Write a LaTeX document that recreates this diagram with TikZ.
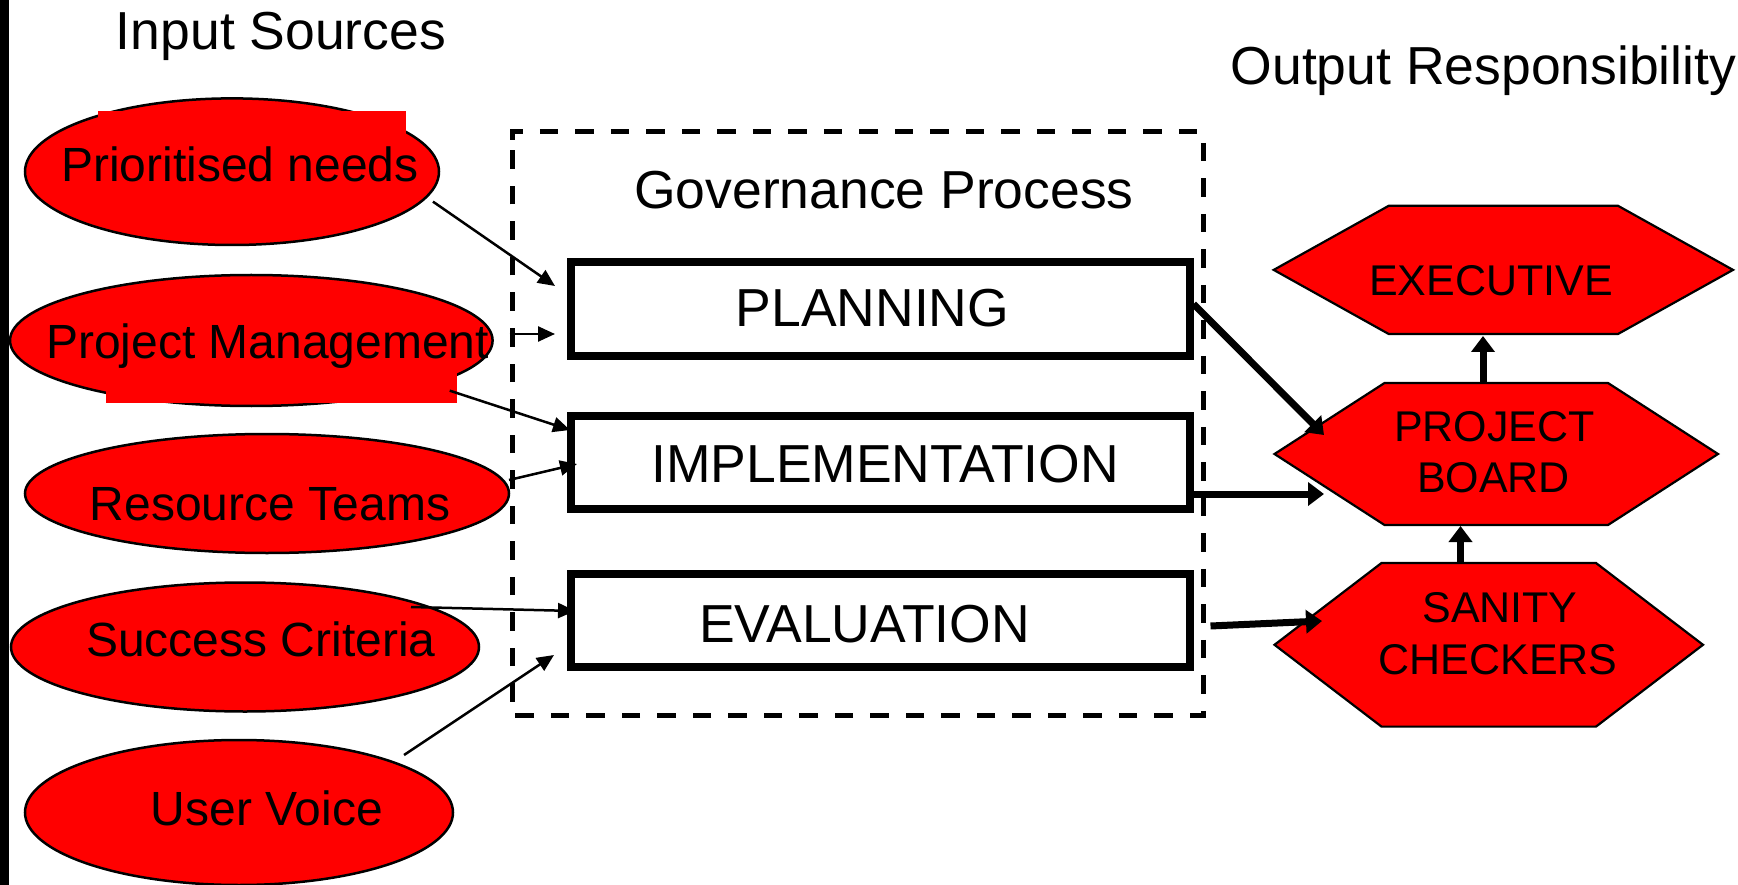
\documentclass[tikz,border=0pt]{standalone}
\usepackage{fontspec}
\setmainfont{Liberation Sans}
\usetikzlibrary{shapes.geometric,arrows.meta,calc}

\tikzset{
  title/.style={anchor=base, inner sep=0, font=\fontsize{53.5}{60}\selectfont},
  source/.style={ellipse, draw, line width=2.5pt, fill=red, inner sep=0, outer sep=0},
  patch/.style={fill=red, draw=none, inner sep=0, outer sep=0},
  srclabel/.style={anchor=base, inner sep=0, font=\fontsize{48}{55}\selectfont},
  framebound/.style={inner sep=0, outer sep=0},
  dashframe/.style={line width=4.7pt, dash pattern=on 18.5pt off 17pt},
  procbox/.style={draw, line width=8pt, fill=white, inner sep=0,
                  minimum width=618.5pt},
  proclabel/.style={anchor=base, inner sep=0, font=\fontsize{53.5}{60}\selectfont},
  hexbound/.style={inner sep=0, outer sep=0},
  hexshape/.style={fill=red, draw, line width=2.2pt, line join=miter},
  hexlabel/.style={anchor=base, inner sep=0, font=\fontsize{43}{50}\selectfont},
  thinarr/.style={line width=2.5pt, -{Triangle[length=17pt,width=15pt]}},
  thickarr/.style={line width=7pt, -{Triangle[length=16pt,width=23pt]}}
}

\begin{document}
\begin{tikzpicture}[x=1pt, y=-1pt]
\useasboundingbox (0,0) rectangle (1738,885);

% left edge strip
\fill[black] (0,0) rectangle (9,885);

% headings
\node[title] (insrc) at (281,50) {Input Sources};
\node[title] (outresp) at (1483.5,85) {Output Responsibility};

% input sources
\node[source, minimum width=414pt, minimum height=146.6pt] (pn) at (232,171.7) {};
\node[patch, minimum width=308pt, minimum height=39pt] (pnpatch) at (251.7,130.5) {};
\node[srclabel] (pnlab) at (240,181.7) {Prioritised needs};

\node[source, minimum width=482.6pt, minimum height=131pt] (pm) at (251.3,340.5) {};
\node[patch, minimum width=350.7pt, minimum height=31.3pt] (pmpatch) at (281.35,387.65) {};
\node[srclabel] (pmlab) at (267.5,358.3) {Project Management};

\node[source, minimum width=484pt, minimum height=119pt] (rt) at (267,493.5) {};
\node[srclabel] (rtlab) at (270,520) {Resource Teams};

\node[source, minimum width=468pt, minimum height=129pt] (sc) at (245,647) {};
\node[srclabel] (sclab) at (261,656.7) {Success Criteria};

\node[source, minimum width=428pt, minimum height=145pt] (uv) at (239,812.5) {};
\node[srclabel] (uvlab) at (267,825) {User Voice};

% governance process
\node[framebound, minimum width=690.9pt, minimum height=584pt] (gov) at (857.85,423.7) {};
\draw[dashframe] ([yshift=-8pt]gov.north west) -- (gov.north west) -- (gov.north east)
  -- (gov.south east) -- (gov.south west) -- cycle;
\node[title] (govlab) at (884,209) {Governance Process};

\node[procbox, minimum height=94pt] (plan) at (880.25,309) {};
\node[proclabel] (planlab) at (872.5,326.5) {PLANNING};
\node[procbox, minimum height=93pt] (impl) at (880.25,462.5) {};
\node[proclabel] (impllab) at (885,482) {IMPLEMENTATION};
\node[procbox, minimum height=93pt] (eval) at (880.25,620.5) {};
\node[proclabel] (evallab) at (864.5,642) {EVALUATION};

% output responsibility
\node[hexbound, minimum width=459.3pt, minimum height=128.2pt] (exec) at (1503.35,269.9) {};
\draw[hexshape] (exec.west) -- ([xshift=115pt]exec.north west) -- ([xshift=-115pt]exec.north east)
  -- (exec.east) -- ([xshift=-115pt]exec.south east) -- ([xshift=115pt]exec.south west) -- cycle;
\node[hexlabel] (execlab) at (1491,296) {EXECUTIVE};

\node[hexbound, minimum width=443.5pt, minimum height=142pt] (pb) at (1496.25,454) {};
\draw[hexshape] (pb.west) -- ([xshift=110pt]pb.north west) -- ([xshift=-110pt]pb.north east)
  -- (pb.east) -- ([xshift=-110pt]pb.south east) -- ([xshift=110pt]pb.south west) -- cycle;
\node[hexlabel] (pblab1) at (1494.5,441) {PROJECT};
\node[hexlabel] (pblab2) at (1493.5,492) {BOARD};

\node[hexbound, minimum width=428.5pt, minimum height=163.6pt] (scheck) at (1488.75,644.8) {};
\draw[hexshape] (scheck.west) -- ([xshift=107pt]scheck.north west) -- ([xshift=-107pt]scheck.north east)
  -- (scheck.east) -- ([xshift=-107pt]scheck.south east) -- ([xshift=107pt]scheck.south west) -- cycle;
\node[hexlabel] (sclab1) at (1500,622.6) {SANITY};
\node[hexlabel] (sclab2) at (1498,674) {CHECKERS};

% arrow tips that stop short of their targets
\coordinate (t1) at (555,286);
\coordinate (t2) at (555,334);
\coordinate (t3) at (570,430);
\coordinate (t4) at (577,464);
\coordinate (t5) at (575,611);
\coordinate (t6) at (554,655);
\coordinate (u1) at (1324,435);
\coordinate (u2) at (1324,494);
\coordinate (u3) at (1322,621);
\coordinate (u4) at (1483,336);
\coordinate (u5) at (1460.5,526);

% inputs into the process
\draw[thinarr] ([xshift=12pt]pn.-9) -- (t1);
\draw[thinarr] ($(pm.east |- t2)+(17,0)$) -- (t2);
\draw[thinarr] ($(pmpatch.east)+(-7,3)$) -- (t3);
\draw[thinarr] ($(rt.east)+(0,-13.5)$) -- (t4);
\draw[thinarr] ($(sc.center)+(166,-40)$) -- (t5);
\draw[thinarr] ($(uv.center)+(165,-57.5)$) -- (t6);

% process outputs and reporting lines
\draw[thickarr] ($(plan.east)+(0,-5)$) -- (u1);
\draw[thickarr] ($(impl.east)+(0,31.5)$) -- (u2);
\draw[thickarr] ($(eval.east)+(17,5.5)$) -- (u3);
\draw[thickarr] (pb.north -| u4) -- (u4);
\draw[thickarr] (scheck.north -| u5) -- (u5);
\end{tikzpicture}
\end{document}
